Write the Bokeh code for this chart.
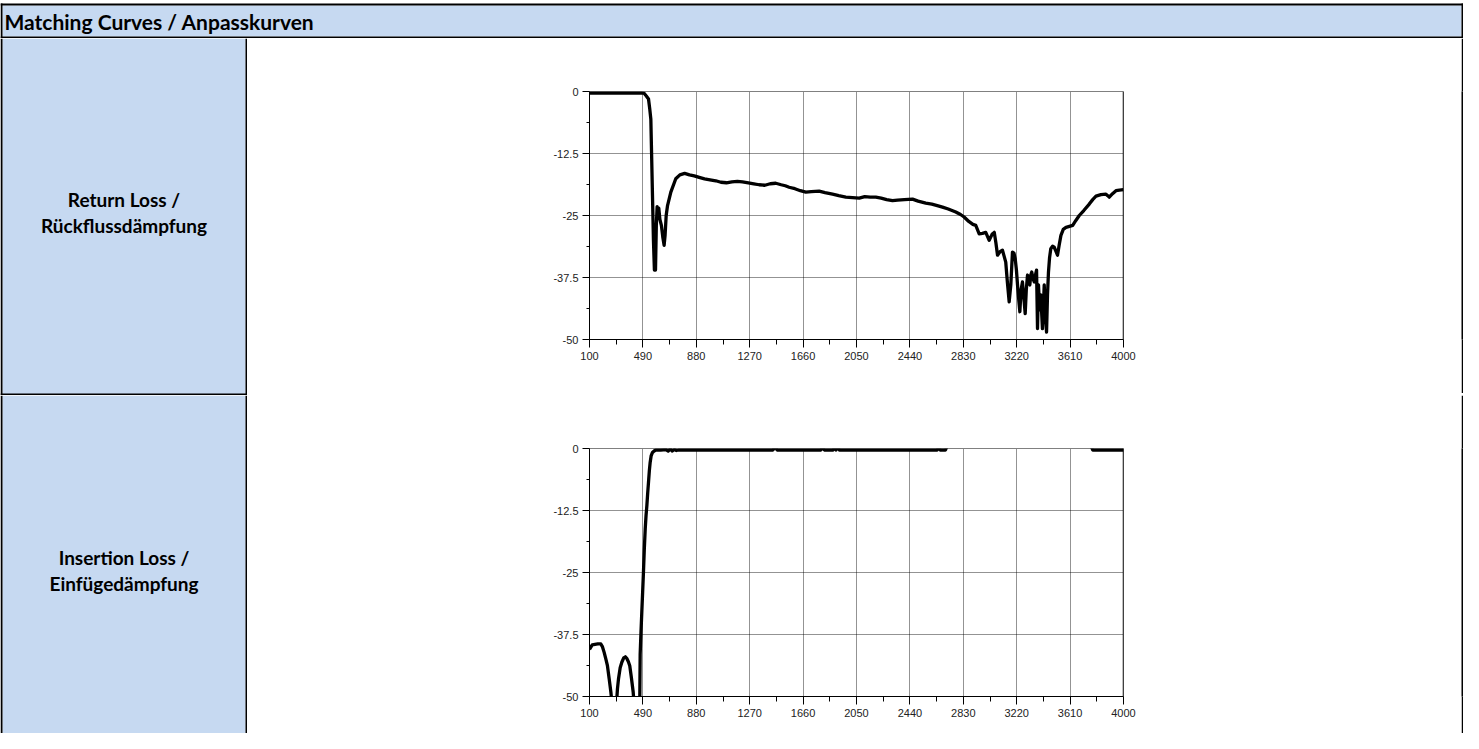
from bokeh.plotting import figure
from bokeh.layouts import column, row
from bokeh.models import Range1d, FixedTicker, Span, Label, ColumnDataSource
from bokeh.embed import file_html
from bokeh.resources import INLINE

# ---------------- data ----------------
HEADER = "Matching Curves / Anpasskurven"
ROW1_LABEL = ["Return Loss /", "Rückflussdämpfung"]
ROW2_LABEL = ["Insertion Loss /", "Einfügedämpfung"]

X_TICKS = [100, 490, 880, 1270, 1660, 2050, 2440, 2830, 3220, 3610, 4000]
X_MINOR = [295, 685, 1075, 1465, 1855, 2245, 2635, 3025, 3415, 3805]
Y_TICKS = [-50, -37.5, -25, -12.5, 0]
Y_MINOR = [-43.75, -31.25, -18.75, -6.25]
Y_LABELS = ["-50", "-37.5", "-25", "-12.5", "0"]

# Return loss (dB) vs frequency (MHz)
RL_X = [100, 200, 300, 400, 480, 500, 515, 531, 540, 548, 553, 560, 567, 574,
        582, 588, 594, 600, 606, 614, 625, 636, 645, 652, 660, 670, 694, 730,
        760, 795, 830, 865, 901, 940, 980, 1022, 1060, 1100, 1140, 1180, 1217,
        1260, 1300, 1339, 1380, 1420, 1460, 1500, 1530, 1558, 1600, 1640, 1680,
        1720, 1777, 1820, 1875, 1920, 1972, 2020, 2070, 2110, 2150, 2191, 2230,
        2270, 2313, 2350, 2400, 2459, 2500, 2556, 2600, 2640, 2678, 2720, 2775,
        2810, 2836, 2870, 2900, 2921, 2946, 2970, 2994, 3019, 3040, 3056, 3068,
        3080, 3098, 3116, 3128, 3140, 3152, 3165, 3177, 3189, 3200, 3209, 3218,
        3226, 3235, 3243, 3252, 3262, 3272, 3282, 3290, 3299, 3308, 3316, 3323,
        3330, 3340, 3348, 3357, 3365, 3372, 3379, 3388, 3396, 3403, 3408, 3414,
        3421, 3430, 3438, 3445, 3452, 3460, 3469, 3482, 3494, 3506, 3518, 3530,
        3543, 3560, 3580, 3605, 3629, 3652, 3677, 3710, 3750, 3775, 3799, 3835,
        3872, 3885, 3896, 3920, 3945, 3970, 4000]
RL_Y = [-0.3, -0.3, -0.3, -0.3, -0.3, -0.4, -0.9, -1.5, -3.5, -5.6, -12.0,
        -21.0, -30.0, -36.0, -36.0, -27.0, -23.2, -25.0, -23.5, -25.8, -27.0,
        -29.5, -31.0, -29.0, -25.0, -23.0, -20.3, -17.6, -16.8, -16.5, -16.8,
        -17.0, -17.3, -17.6, -17.8, -18.0, -18.3, -18.4, -18.2, -18.1, -18.2,
        -18.4, -18.6, -18.8, -18.9, -18.6, -18.5, -18.8, -19.0, -19.3, -19.6,
        -20.0, -20.3, -20.2, -20.1, -20.4, -20.7, -21.0, -21.3, -21.4, -21.5,
        -21.2, -21.3, -21.3, -21.5, -21.8, -22.0, -21.9, -21.8, -21.7, -22.1,
        -22.5, -22.7, -23.0, -23.3, -23.7, -24.3, -24.8, -25.3, -26.2, -26.8,
        -27.0, -28.7, -28.6, -28.4, -30.0, -28.8, -28.4, -30.5, -33.0, -32.3,
        -32.0, -33.2, -34.4, -38.5, -42.4, -39.0, -32.4, -32.6, -33.7, -36.0,
        -39.0, -42.0, -44.4, -40.0, -38.4, -41.5, -44.8, -40.0, -37.0, -38.5,
        -39.0, -37.0, -36.4, -37.8, -38.4, -37.0, -36.0, -47.8, -39.0, -44.0,
        -41.0, -45.0, -47.8, -44.0, -39.0, -45.0, -48.5, -41.0, -36.4, -33.5,
        -31.7, -31.2, -31.4, -32.2, -33.0, -31.0, -29.0, -27.8, -27.4, -27.2,
        -27.0, -26.0, -25.0, -24.0, -22.7, -21.8, -21.1, -20.8, -20.7, -21.0,
        -21.3, -20.6, -20.0, -19.9, -19.8]

# Insertion loss (dB) vs frequency (MHz); values outside the axis range are clipped
IL_X = [100, 120, 140, 160, 183, 195, 207, 220, 231, 244, 256, 270, 283, 296,
        304, 312, 324, 336, 350, 362, 372, 384, 394, 406, 419, 432, 450, 466,
        470, 476, 482, 488, 494, 500, 507, 513, 519, 525, 531, 537, 543, 550,
        560, 572, 584, 620, 657, 675, 690, 705, 720, 735, 750, 800, 900, 1000,
        1100, 1200, 1300, 1400, 1440, 1455, 1470, 1500, 1600, 1700, 1790, 1800,
        1815, 1830, 1880, 1890, 1900, 1912, 1925, 2000, 2100, 2200, 2300, 2400,
        2500, 2600, 2640, 2650, 2662, 2700, 2715, 3000, 3300, 3600, 3760, 3775,
        3850, 3950, 4000]
IL_Y = [-40.5, -39.6, -39.5, -39.4, -39.4, -40.0, -41.1, -42.5, -43.8, -46.5,
        -49.1, -53.0, -56.0, -52.0, -48.5, -46.4, -44.2, -43.1, -42.2, -42.0,
        -42.3, -43.0, -43.8, -46.2, -49.1, -54.0, -58.0, -55.0, -41.5, -37.0,
        -33.0, -29.0, -25.0, -20.5, -16.2, -13.5, -11.5, -9.0, -6.8, -4.5, -2.8,
        -1.5, -0.8, -0.5, -0.3, -0.3, -0.2, -0.5, -0.1, -0.5, -0.2, -0.4, -0.3,
        -0.3, -0.3, -0.3, -0.3, -0.3, -0.3, -0.3, -0.3, 0.4, -0.3, -0.3, -0.3,
        -0.3, -0.3, 0.4, -0.3, -0.3, -0.3, 0.4, -0.3, 0.4, -0.3, -0.3, -0.3,
        -0.3, -0.3, -0.3, -0.3, -0.3, -0.3, 0.4, -0.3, -0.3, 0.8, 0.8, 0.8,
        0.8, 0.8, -0.3, -0.3, -0.3, -0.3]

# ---------------- styling / layout constants ----------------
BLUE = "#c6d9f1"
PAGE_L, PAGE_R = 8, 1471
LEFT_COL_R = 255
CHART_W = 1214
ROW1_TOP, ROW1_BOT = 46, 403
ROW2_TOP, ROW2_BOT = 403, 741
LABEL_CX = 131.5


def deco_fig(x0, x1, y0, y1):
    f = figure(width=x1 - x0, height=y1 - y0, x_range=Range1d(x0, x1),
               y_range=Range1d(y1, y0), x_axis_type=None, y_axis_type=None,
               toolbar_location=None, output_backend="svg", min_border=0)
    f.outline_line_color = None
    f.background_fill_color = "white"
    f.border_fill_color = "white"
    f.grid.visible = False
    return f


def solid_fig(w, h):
    f = figure(width=w, height=h, x_axis_type=None, y_axis_type=None,
               toolbar_location=None, output_backend="svg", min_border=0)
    f.outline_line_color = None
    f.background_fill_color = "black"
    f.border_fill_color = "black"
    return f


# header
hdr = deco_fig(PAGE_L, PAGE_R, 8, ROW1_TOP)
hdr.quad(left=[10], right=[1469], top=[13], bottom=[44], fill_color=BLUE, line_color=None)
hdr.quad(left=[PAGE_L, PAGE_L, PAGE_L, 1469], right=[PAGE_R, PAGE_R, 10, PAGE_R],
         top=[11, 44, 11, 11], bottom=[13, 46, 46, 46], fill_color="black", line_color=None)
hdr.add_layout(Label(x=12, y=29, text=HEADER, text_font="Lato", text_font_style="bold",
                     text_font_size="21px", text_baseline="middle", text_align="left",
                     text_color="black"))


def label_fig(y0, y1, lines, line_y, bottom_border):
    f = deco_fig(PAGE_L, LEFT_COL_R, y0, y1)
    f.quad(left=[10], right=[253], top=[y0], bottom=[y1], fill_color=BLUE, line_color=None)
    lefts, rights, tops, bots = [PAGE_L, 253], [10, LEFT_COL_R], [y0, y0], [y1, y1]
    if bottom_border:
        lefts.append(PAGE_L); rights.append(LEFT_COL_R); tops.append(y1 - 2); bots.append(y1)
    f.quad(left=lefts, right=rights, top=tops, bottom=bots, fill_color="black", line_color=None)
    for t, yy in zip(lines, line_y):
        f.add_layout(Label(x=LABEL_CX, y=yy, text=t, text_font="Lato", text_font_style="bold",
                           text_font_size="19px", text_baseline="middle", text_align="center",
                           text_color="black"))
    return f


def chart_fig(xs, ys, height, top=53, frame_h=248):
    f = figure(width=CHART_W, height=height, x_range=Range1d(100, 4000),
               y_range=Range1d(-50, 0), toolbar_location=None, output_backend="svg",
               min_border=0, min_border_left=342, min_border_right=CHART_W - 342 - 534,
               min_border_top=top, min_border_bottom=height - top - frame_h)
    f.background_fill_color = "white"
    f.border_fill_color = "white"
    f.outline_line_color = "#808080"
    f.outline_line_width = 1
    xt = FixedTicker(ticks=X_TICKS, minor_ticks=X_MINOR)
    yt = FixedTicker(ticks=Y_TICKS, minor_ticks=Y_MINOR)
    f.xaxis.ticker = xt
    f.yaxis.ticker = yt
    f.xgrid.ticker = xt
    f.ygrid.ticker = yt
    f.yaxis.major_label_overrides = {t: s for t, s in zip(Y_TICKS, Y_LABELS)}
    for ax in (f.xaxis[0], f.yaxis[0]):
        ax.axis_line_color = "black"
        ax.axis_line_width = 1
        ax.major_tick_line_color = "black"
        ax.minor_tick_line_color = "black"
        ax.major_tick_in = 0
        ax.minor_tick_in = 0
        ax.major_label_text_font = "Liberation Sans"
        ax.major_label_text_font_size = "11px"
        ax.major_label_text_color = "#222222"
        ax.major_label_standoff = 4
    f.xaxis.major_tick_out = 8
    f.xaxis.minor_tick_out = 5
    f.yaxis.major_tick_out = 7
    f.yaxis.minor_tick_out = 3
    for g in (f.xgrid[0], f.ygrid[0]):
        g.grid_line_color = "black"
        g.grid_line_alpha = 0.85
        g.grid_line_dash = "1 1"
        g.grid_line_width = 1
    f.add_layout(Span(location=4000, dimension="height", line_color="black", line_width=1.5))
    src = ColumnDataSource(data=dict(x=xs, y=ys))
    f.line("x", "y", source=src, line_color="black", line_width=3.3, line_join="round")
    return f


lab1 = label_fig(ROW1_TOP, ROW1_BOT, ROW1_LABEL, [207, 233], True)
lab2 = label_fig(ROW2_TOP, ROW2_BOT, ROW2_LABEL, [565, 591], False)

ch1 = chart_fig(RL_X, RL_Y, ROW1_BOT - ROW1_TOP - 2)
ch2 = chart_fig(IL_X, IL_Y, ROW2_BOT - ROW2_TOP)

vb1 = solid_fig(2, ROW1_BOT - ROW1_TOP - 2)
hb1 = solid_fig(CHART_W + 2, 2)
vb2 = solid_fig(2, ROW2_BOT - ROW2_TOP)

layout = column(
    hdr,
    row(lab1, column(row(ch1, vb1), hb1)),
    row(lab2, row(ch2, vb2)),
)

open("out.html", "w").write(file_html(layout, INLINE))
